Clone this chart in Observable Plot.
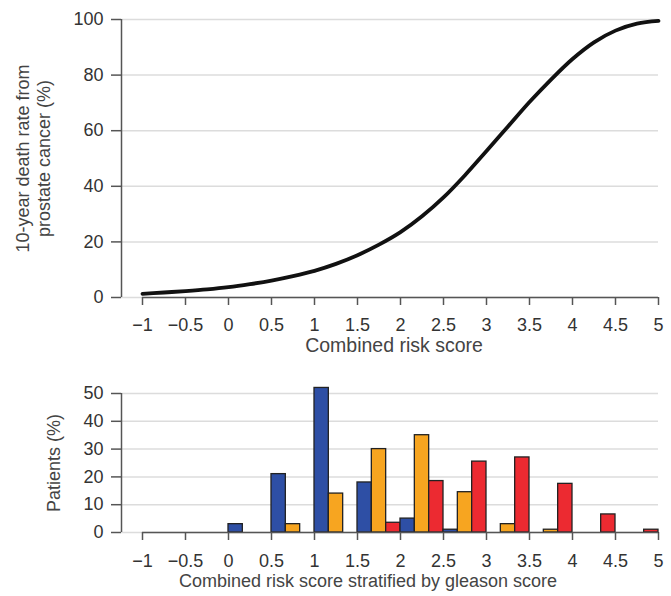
<!DOCTYPE html>
<html><head><meta charset="utf-8">
<script src="https://cdn.jsdelivr.net/npm/d3@7"></script>
<script src="https://cdn.jsdelivr.net/npm/@observablehq/plot@0.6"></script>
<style>body{margin:0;background:#fff;} #chart{width:671px;} svg{display:block;}</style>
</head><body><div id="chart"></div>
<script>
// ---- data ----
const xTicks = [-1, -0.5, 0, 0.5, 1, 1.5, 2, 2.5, 3, 3.5, 4, 4.5, 5];
const riskScore = [-1, -0.75, -0.5, -0.25, 0, 0.25, 0.5, 0.75, 1, 1.25, 1.5, 1.75, 2, 2.25, 2.5, 2.75, 3, 3.25, 3.5, 3.75, 4, 4.25, 4.5, 4.75, 5];
const deathRate = [1.3, 1.8, 2.3, 2.9, 3.7, 4.8, 6.1, 7.7, 9.6, 12.1, 15.2, 19.0, 23.5, 29.2, 36, 44, 52.7, 61.5, 70.3, 78.4, 85.8, 91.8, 96, 98.5, 99.5];
const deathTicks = [0, 20, 40, 60, 80, 100];

const binStarts = [0, 0.5, 1, 1.5, 2, 2.5, 3, 3.5, 4, 4.5];
const groups = ["Gleason low", "Gleason mid", "Gleason high"];
const blueVals   = [3, 21, 52, 18, 5, 1, 0, 0, 0, 0];
const orangeVals = [0, 3, 14, 30, 35, 14.5, 3, 1, 0, 0];
const redVals    = [0, 0, 0, 3.5, 18.5, 25.5, 27, 17.5, 6.5, 1];
const patientTicks = [0, 10, 20, 30, 40, 50];
const groupColors = ["#2E4FA5", "#F7A520", "#EC2A31"];

const topXTitle = "Combined risk score";
const topYTitle = "10-year death rate from\nprostate cancer (%)";
const botXTitle = "Combined risk score stratified by gleason score";
const botYTitle = "Patients (%)";

// ---- build ----
const font = "'Liberation Sans', Arial, Helvetica, sans-serif";
const W = 671;
const fmt = d3.format("");
const xMin = xTicks[0], xMax = xTicks[xTicks.length - 1];
const INSET = 21;

const curve = riskScore.map((x, i) => ({x, y: deathRate[i]}));

const binWidth = binStarts[1] - binStarts[0];
const series = [blueVals, orangeVals, redVals];
const bars = [];
binStarts.forEach((b, i) => series.forEach((vals, g) => {
  if (vals[i] > 0) bars.push({x1: b + g * binWidth / 3, x2: b + (g + 1) * binWidth / 3, y: vals[i], group: groups[g]});
}));

const xAxisLine = [{y: 0, x1: xMin, x2: xMax}];
const yAxisLine = (ticks) => [{x: xMin, y1: ticks[0], y2: ticks[ticks.length - 1]}];
const axisColor = "#555";

const common = {
  width: W, marginLeft: 121, marginRight: 13,
  style: {fontFamily: font, fontSize: "18px", color: "#333", background: "white"},
  x: {domain: [xMin, xMax], insetLeft: INSET}
};

const topPlot = Plot.plot({
  ...common,
  height: 368, marginTop: 19, marginBottom: 71,
  y: {domain: [0, 100]},
  marks: [
    Plot.gridY(deathTicks, {stroke: "#dcdcdc", strokeOpacity: 1, strokeWidth: 1.5}),
    Plot.axisY(deathTicks, {tickSize: 10, tickPadding: 8, label: null, fontSize: 18, stroke: axisColor, strokeWidth: 1.5, tickFormat: fmt}),
    Plot.axisX(xTicks, {tickSize: 8, tickPadding: 13, label: null, fontSize: 18, stroke: axisColor, strokeWidth: 1.5, tickFormat: fmt}),
    Plot.ruleX(yAxisLine(deathTicks), {x: "x", y1: "y1", y2: "y2", dx: -INSET, stroke: axisColor, strokeWidth: 1.5}),
    Plot.ruleY(xAxisLine, {y: "y", x1: "x1", x2: "x2", stroke: axisColor, strokeWidth: 1.5}),
    Plot.line(curve, {x: "x", y: "y", stroke: "#111", strokeWidth: 3.8, curve: "monotone-x"}),
    Plot.text([topYTitle], {frameAnchor: "left", textAnchor: "middle", rotate: -90, dx: -89, fontSize: 18, lineHeight: 1.2, fill: "#444"}),
    Plot.text([topXTitle], {frameAnchor: "bottom", dy: 54, dx: 4, fontSize: 19.5, fill: "#444"})
  ]
});

const botPlot = Plot.plot({
  ...common,
  height: 228, marginTop: 25, marginBottom: 64,
  y: {domain: [0, 50]},
  color: {domain: groups, range: groupColors},
  marks: [
    Plot.gridY(patientTicks, {stroke: "#dcdcdc", strokeOpacity: 1, strokeWidth: 1.5}),
    Plot.axisY(patientTicks, {tickSize: 10, tickPadding: 8, label: null, fontSize: 18, stroke: axisColor, strokeWidth: 1.5, tickFormat: fmt}),
    Plot.axisX(xTicks, {tickSize: 8, tickPadding: 14, label: null, fontSize: 18, stroke: axisColor, strokeWidth: 1.5, tickFormat: fmt}),
    Plot.ruleX(yAxisLine(patientTicks), {x: "x", y1: "y1", y2: "y2", dx: -INSET, stroke: axisColor, strokeWidth: 1.5}),
    Plot.rectY(bars, {x1: "x1", x2: "x2", y: "y", fill: "group", stroke: "#222", strokeWidth: 1.3}),
    Plot.ruleY(xAxisLine, {y: "y", x1: "x1", x2: "x2", stroke: axisColor, strokeWidth: 1.5}),
    Plot.text([botYTitle], {frameAnchor: "left", textAnchor: "middle", rotate: -90, dx: -67, fontSize: 18, fill: "#444"}),
    Plot.text([botXTitle], {frameAnchor: "bottom", dy: 54, dx: -22, fontSize: 18, fill: "#444"})
  ]
});

const el = document.getElementById("chart");
el.appendChild(topPlot);
el.appendChild(botPlot);
</script>
</body></html>
